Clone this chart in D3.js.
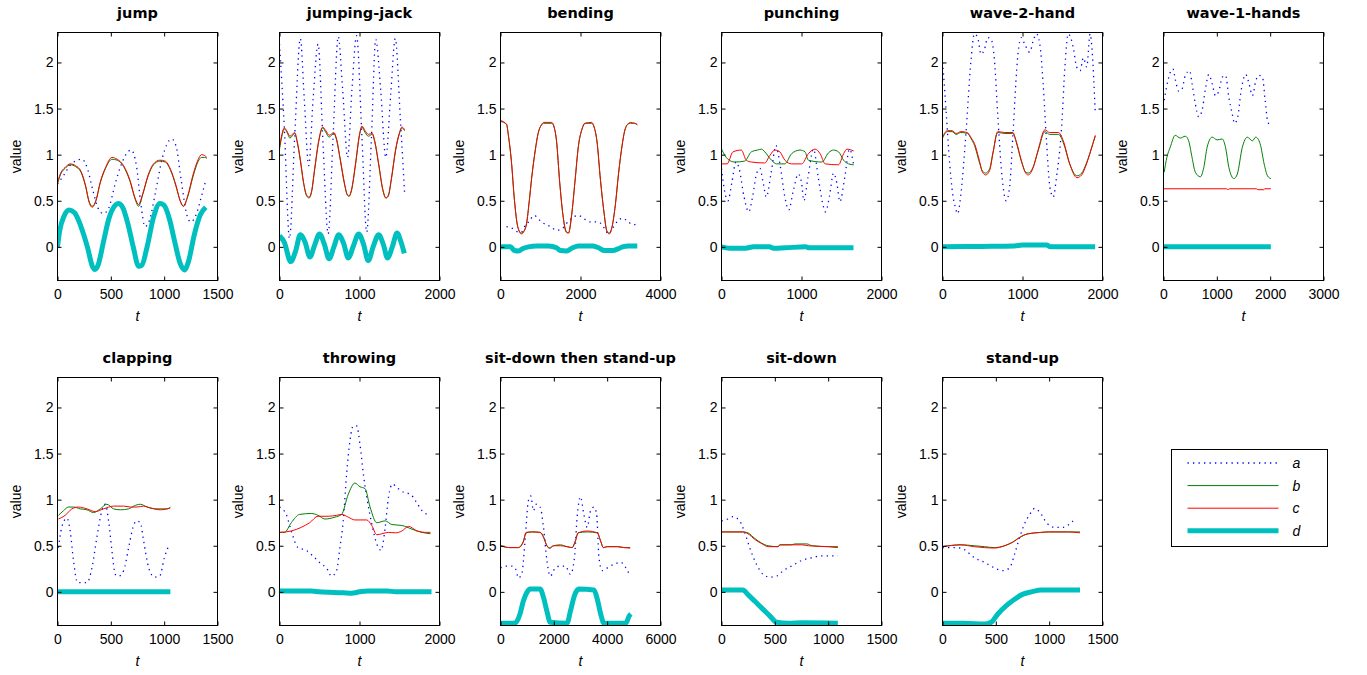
<!DOCTYPE html>
<html><head><meta charset="utf-8">
<script src="https://cdn.jsdelivr.net/npm/d3@7"></script>
<style>
body{margin:0;background:#fff}
svg{display:block}
text{font-family:"Liberation Sans",Arial,sans-serif;fill:#000}
.title{font-family:"DejaVu Sans",sans-serif;font-weight:bold;font-size:14.5px}
</style>
</head><body>
<svg id="chart" width="1367" height="675"></svg>
<script>
// ---------- DATA ----------
const titles = ["jump","jumping-jack","bending","punching","wave-2-hand","wave-1-hands",
                "clapping","throwing","sit-down then stand-up","sit-down","stand-up"];
const xMax   = [1500,2000,4000,2000,2000,3000,1500,2000,6000,1500,1500];
const xStep  = [500,1000,2000,1000,1000,1000,500,1000,2000,500,500];
const yTicks = [0,0.5,1,1.5,2];
const seriesNames = ["a","b","c","d"];

// jump
const jump_a = [[0,0.68],[60,0.78],[130,0.90],[230,0.95],[280,0.85],[330,0.62],[380,0.42],[430,0.36],[480,0.42],[540,0.68],[600,0.90],[690,1.05],[740,0.88],[780,0.48],[820,0.22],[860,0.28],[920,0.60],[980,0.95],[1070,1.17],[1110,1.10],[1160,0.72],[1210,0.36],[1250,0.27],[1300,0.35],[1350,0.55],[1390,0.72]];
const jump_b = [[0,0.68],[30,0.79],[70,0.85],[120,0.89],[170,0.87],[220,0.81],[260,0.67],[300,0.48],[325,0.44],[360,0.50],[400,0.69],[450,0.85],[510,0.95],[560,0.94],[620,0.87],[680,0.71],[730,0.51],[760,0.44],[800,0.57],[850,0.77],[900,0.89],[960,0.93],[1010,0.92],[1060,0.83],[1110,0.66],[1150,0.50],[1180,0.44],[1220,0.54],[1270,0.76],[1320,0.93],[1350,0.97],[1380,0.97],[1400,0.96]];
const jump_c = [[0,0.70],[30,0.80],[70,0.86],[120,0.90],[170,0.88],[220,0.82],[260,0.68],[300,0.47],[325,0.43],[360,0.50],[400,0.70],[450,0.86],[510,0.97],[560,0.95],[620,0.88],[680,0.72],[730,0.52],[760,0.46],[800,0.58],[850,0.78],[900,0.90],[960,0.94],[1010,0.93],[1060,0.84],[1110,0.67],[1150,0.50],[1180,0.44],[1220,0.55],[1270,0.78],[1320,0.95],[1350,1.0],[1380,0.99],[1400,0.97]];
const jump_d = [[0,0],[20,0.17],[60,0.33],[110,0.40],[160,0.37],[220,0.22],[280,0.0],[330,-0.22],[350,-0.245],[380,-0.2],[430,0.05],[480,0.30],[540,0.45],[570,0.47],[610,0.43],[660,0.25],[710,0.0],[760,-0.21],[790,-0.20],[840,0.0],[900,0.32],[960,0.47],[1000,0.45],[1050,0.30],[1100,0.05],[1150,-0.18],[1190,-0.25],[1230,-0.15],[1280,0.12],[1340,0.35],[1390,0.43]];

// jumping-jack
const jj_a = [[0,2.20],[60,1.30],[125,0.09],[190,1.20],[260,2.26],[310,1.60],[365,0.88],[420,1.60],[482,2.20],[545,1.10],[608,0.14],[670,1.20],[734,2.28],[790,1.70],[851,0.97],[905,1.70],[964,2.29],[1030,1.20],[1090,0.16],[1150,1.20],[1203,2.25],[1265,1.70],[1329,0.97],[1390,1.65],[1447,2.26],[1510,1.40],[1564,0.58]];
const jj_b = [[0,1.06],[30,1.20],[60,1.28],[90,1.25],[130,1.18],[190,1.23],[220,1.14],[260,0.94],[300,0.70],[340,0.55],[370,0.53],[400,0.59],[440,0.84],[490,1.14],[540,1.29],[580,1.24],[620,1.19],[680,1.23],[710,1.17],[760,0.94],[810,0.69],[850,0.56],[870,0.55],[900,0.61],[950,0.89],[1000,1.21],[1030,1.30],[1070,1.24],[1110,1.20],[1160,1.22],[1190,1.14],[1240,0.89],[1290,0.62],[1330,0.53],[1360,0.55],[1400,0.74],[1450,1.04],[1500,1.23],[1530,1.29],[1564,1.26]];
const jj_c = [[0,1.08],[30,1.22],[60,1.29],[90,1.26],[130,1.20],[190,1.24],[220,1.15],[260,0.95],[300,0.70],[340,0.56],[370,0.54],[400,0.60],[440,0.85],[490,1.15],[540,1.30],[580,1.26],[620,1.21],[680,1.24],[710,1.18],[760,0.95],[810,0.70],[850,0.56],[870,0.55],[900,0.62],[950,0.90],[1000,1.22],[1030,1.31],[1070,1.26],[1110,1.22],[1160,1.23],[1190,1.15],[1240,0.90],[1290,0.63],[1330,0.53],[1360,0.56],[1400,0.75],[1450,1.05],[1500,1.24],[1530,1.30],[1564,1.27]];
const jj_d = [[0,0.12],[60,0.05],[140,-0.16],[200,-0.05],[260,0.13],[320,0.05],[380,-0.11],[440,0.02],[500,0.14],[560,0.03],[620,-0.13],[680,0.0],[740,0.13],[800,0.04],[860,-0.12],[920,0.0],[990,0.14],[1050,0.03],[1110,-0.15],[1170,0.0],[1240,0.13],[1300,0.02],[1350,-0.12],[1410,0.0],[1470,0.15],[1520,0.05],[1560,-0.07]];

// bending
const bend_a = [[150,0.22],[300,0.20],[450,0.16],[520,0.16],[600,0.22],[700,0.27],[850,0.34],[950,0.30],[1060,0.26],[1250,0.22],[1400,0.18],[1550,0.20],[1700,0.28],[1850,0.33],[1950,0.34],[2100,0.30],[2250,0.27],[2450,0.27],[2600,0.20],[2700,0.14],[2800,0.20],[2950,0.29],[3050,0.31],[3200,0.27],[3300,0.24],[3420,0.25]];
const bend_b = [[0,1.36],[150,1.33],[200,1.20],[270,0.94],[350,0.50],[430,0.22],[520,0.15],[600,0.18],[650,0.25],[720,0.50],[780,0.75],[870,1.05],[940,1.23],[1020,1.32],[1080,1.34],[1280,1.34],[1340,1.30],[1400,1.15],[1480,0.70],[1560,0.35],[1640,0.17],[1700,0.15],[1780,0.35],[1860,0.70],[1950,1.10],[2040,1.28],[2110,1.34],[2280,1.34],[2340,1.30],[2410,1.15],[2500,0.72],[2580,0.40],[2660,0.17],[2720,0.15],[2790,0.22],[2870,0.45],[2950,0.79],[3040,1.10],[3100,1.25],[3180,1.33],[3250,1.34],[3350,1.34],[3420,1.32]];
const bend_c = [[0,1.37],[150,1.33],[200,1.20],[270,0.94],[350,0.50],[430,0.22],[520,0.14],[600,0.18],[650,0.25],[720,0.50],[780,0.75],[870,1.05],[940,1.23],[1020,1.32],[1080,1.35],[1280,1.35],[1340,1.30],[1400,1.15],[1480,0.70],[1560,0.35],[1640,0.16],[1700,0.15],[1780,0.35],[1860,0.70],[1950,1.10],[2040,1.28],[2110,1.34],[2280,1.35],[2340,1.30],[2410,1.15],[2500,0.72],[2580,0.40],[2660,0.17],[2720,0.14],[2790,0.22],[2870,0.45],[2950,0.79],[3040,1.10],[3100,1.25],[3180,1.33],[3250,1.35],[3350,1.34],[3420,1.33]];
const bend_d = [[0,0],[250,0],[350,-0.04],[450,-0.045],[550,-0.02],[700,0],[900,0.01],[1200,0.01],[1400,-0.01],[1500,-0.04],[1650,-0.045],[1800,-0.01],[1950,0.01],[2300,0.01],[2450,-0.01],[2600,-0.04],[2800,-0.04],[2950,-0.02],[3050,0.0],[3200,0.01],[3420,0.01]];

// punching
const punch_a = [[0,0.85],[40,0.60],[80,0.50],[130,0.70],[180,0.92],[220,0.85],[280,0.55],[340,0.38],[390,0.55],[440,0.80],[480,0.85],[520,0.70],[560,0.54],[620,0.80],[680,1.10],[730,0.90],[790,0.55],[840,0.40],[900,0.62],[960,0.79],[1000,0.70],[1030,0.50],[1080,0.75],[1150,1.06],[1210,0.75],[1270,0.45],[1300,0.38],[1350,0.55],[1400,0.80],[1440,0.70],[1480,0.49],[1540,0.75],[1600,1.06],[1650,0.90]];
const punch_b = [[0,1.06],[80,0.95],[164,0.92],[289,0.93],[373,1.03],[450,1.05],[499,1.06],[541,1.03],[625,0.94],[688,0.90],[792,0.90],[876,1.01],[981,1.05],[1044,1.03],[1086,0.94],[1254,0.92],[1338,1.02],[1400,1.05],[1463,1.03],[1526,0.94],[1589,0.90],[1652,0.89]];
const punch_c = [[0,0.90],[70,0.90],[143,1.03],[247,1.05],[310,0.94],[373,0.92],[541,0.91],[604,0.99],[667,1.05],[730,1.03],[792,0.94],[876,0.90],[1002,0.90],[1086,1.01],[1170,1.06],[1233,1.01],[1296,0.90],[1463,0.89],[1526,1.01],[1568,1.06],[1652,1.04]];
const punch_d = [[0,0.0],[100,-0.015],[300,-0.015],[400,0.0],[600,0.0],[650,-0.015],[800,-0.01],[1050,0.0],[1100,-0.01],[1650,-0.01]];

// wave-2-hand
const w2_a = [[0,2.0],[13,1.87],[42,1.51],[90,0.90],[126,0.58],[160,0.43],[189,0.36],[231,0.58],[293,1.23],[356,2.02],[398,2.31],[440,2.27],[482,2.09],[524,2.14],[566,2.27],[608,2.25],[650,2.02],[692,1.41],[734,0.86],[797,0.50],[839,0.65],[881,1.23],[943,2.09],[985,2.27],[1027,2.20],[1090,2.11],[1132,2.23],[1174,2.31],[1216,2.20],[1258,1.77],[1300,1.15],[1342,0.65],[1384,0.54],[1426,0.76],[1489,1.30],[1530,1.95],[1572,2.31],[1635,2.16],[1677,1.95],[1719,1.91],[1761,2.05],[1803,1.95],[1845,2.31],[1870,2.13],[1908,1.48]];
const w2_b = [[0,1.18],[60,1.25],[120,1.25],[170,1.22],[230,1.24],[310,1.23],[360,1.17],[400,1.10],[460,0.92],[500,0.82],[540,0.80],[590,0.85],[630,1.02],[690,1.24],[780,1.23],[880,1.23],[920,1.14],[985,0.93],[1040,0.81],[1070,0.80],[1130,0.86],[1195,1.04],[1280,1.25],[1340,1.22],[1450,1.22],[1510,1.13],[1590,0.90],[1680,0.77],[1740,0.80],[1800,0.91],[1880,1.12],[1910,1.20]];
const w2_c = [[0,1.19],[60,1.26],[120,1.26],[170,1.23],[230,1.25],[310,1.24],[360,1.18],[400,1.12],[460,0.94],[500,0.81],[540,0.78],[590,0.83],[630,1.01],[690,1.25],[780,1.24],[880,1.24],[920,1.15],[985,0.94],[1040,0.80],[1070,0.78],[1130,0.85],[1195,1.05],[1280,1.27],[1340,1.24],[1450,1.24],[1510,1.15],[1590,0.90],[1680,0.75],[1740,0.78],[1800,0.90],[1880,1.12],[1910,1.21]];
const w2_d = [[0,0.0],[500,0.005],[900,0.01],[1000,0.02],[1300,0.02],[1350,0.0],[1908,0.0]];

// wave-1-hands
const w1_a = [[13,1.59],[63,1.75],[126,1.89],[176,1.93],[220,1.82],[283,1.69],[346,1.71],[409,1.86],[491,1.91],[535,1.77],[597,1.55],[660,1.41],[723,1.48],[786,1.71],[849,1.87],[912,1.77],[975,1.64],[1038,1.69],[1101,1.84],[1163,1.86],[1226,1.62],[1289,1.44],[1333,1.34],[1396,1.42],[1447,1.66],[1541,1.87],[1604,1.77],[1667,1.64],[1730,1.80],[1792,1.86],[1855,1.84],[1906,1.59],[1950,1.37],[1981,1.33]];
const w1_b = [[13,0.81],[63,0.97],[126,1.08],[220,1.21],[314,1.18],[409,1.20],[472,1.15],[535,0.97],[597,0.81],[692,0.76],[755,0.86],[818,1.08],[912,1.19],[1006,1.16],[1101,1.17],[1163,1.08],[1226,0.86],[1321,0.74],[1384,0.79],[1478,1.08],[1572,1.19],[1667,1.15],[1730,1.19],[1811,1.12],[1887,0.90],[1950,0.77],[2013,0.74]];
const w1_c = [[0,0.63],[1180,0.63],[1210,0.62],[1240,0.63],[1740,0.63],[1770,0.62],[1880,0.62],[1900,0.63],[2013,0.63]];
const w1_d = [[0,0],[2013,0]];

// clapping
const clap_a = [[9,0.48],[40,0.70],[88,0.80],[119,0.66],[150,0.34],[188,0.10],[229,0.10],[276,0.10],[323,0.26],[369,0.59],[416,0.88],[448,0.95],[479,0.77],[510,0.45],[542,0.19],[573,0.17],[620,0.23],[667,0.48],[708,0.70],[739,0.77],[777,0.75],[808,0.55],[855,0.26],[908,0.16],[958,0.17],[1002,0.37],[1042,0.50]];
const clap_b = [[9,0.83],[56,0.88],[103,0.92],[150,0.92],[213,0.90],[276,0.89],[338,0.86],[401,0.90],[463,0.95],[526,0.90],[589,0.89],[667,0.90],[714,0.93],[777,0.95],[839,0.92],[933,0.90],[1027,0.90],[1058,0.92]];
const clap_c = [[9,0.79],[72,0.83],[135,0.90],[197,0.92],[276,0.90],[354,0.87],[432,0.90],[526,0.93],[620,0.93],[683,0.92],[745,0.92],[808,0.93],[870,0.91],[964,0.89],[1058,0.91]];
const clap_d = [[0,0],[1058,0]];

// throwing
const throw_a = [[0,0.92],[84,0.84],[147,0.66],[231,0.48],[335,0.45],[440,0.37],[524,0.30],[587,0.26],[650,0.17],[713,0.23],[755,0.48],[797,0.77],[839,1.28],[881,1.64],[922,1.80],[964,1.80],[1006,1.60],[1048,1.28],[1090,1.03],[1153,0.74],[1216,0.52],[1270,0.45],[1321,0.70],[1363,1.03],[1413,1.17],[1468,1.13],[1551,1.08],[1635,1.06],[1698,0.99],[1782,0.88],[1845,0.84]];
const throw_b = [[0,0.645],[63,0.645],[147,0.75],[252,0.84],[398,0.85],[482,0.83],[566,0.79],[692,0.81],[776,0.84],[860,1.06],[943,1.18],[1006,1.14],[1069,1.12],[1132,0.92],[1216,0.75],[1321,0.77],[1405,0.73],[1530,0.72],[1656,0.68],[1782,0.645],[1887,0.63]];
const throw_c = [[0,0.645],[147,0.66],[273,0.70],[377,0.75],[482,0.82],[608,0.82],[713,0.83],[776,0.84],[860,0.81],[943,0.78],[1090,0.78],[1153,0.72],[1216,0.62],[1279,0.63],[1363,0.645],[1447,0.64],[1530,0.66],[1614,0.71],[1719,0.66],[1824,0.645],[1887,0.645]];
const throw_d = [[0,0.01],[400,0.01],[500,0.0],[800,-0.01],[900,-0.015],[1000,0.0],[1100,0.01],[1350,0.01],[1450,0.0],[1900,0.0]];

// sit-down then stand-up
const sds_a = [[0,0.26],[227,0.28],[416,0.28],[580,0.24],[668,0.15],[794,0.19],[920,0.55],[1046,0.99],[1134,1.04],[1235,0.88],[1336,0.95],[1487,0.92],[1613,0.70],[1740,0.34],[1866,0.17],[2055,0.26],[2244,0.28],[2433,0.28],[2622,0.19],[2773,0.37],[2874,0.81],[3000,1.03],[3126,0.84],[3252,0.70],[3378,0.88],[3504,0.92],[3605,0.84],[3693,0.37],[3819,0.23],[4008,0.26],[4261,0.30],[4513,0.32],[4702,0.26],[4865,0.17]];
const sds_b = [[0,0.50],[353,0.48],[668,0.48],[857,0.55],[958,0.64],[1172,0.65],[1487,0.645],[1613,0.60],[1740,0.50],[1840,0.48],[1992,0.50],[2244,0.51],[2496,0.49],[2685,0.48],[2811,0.56],[2912,0.64],[3252,0.65],[3630,0.64],[3756,0.55],[3857,0.48],[4008,0.49],[4387,0.49],[4639,0.48],[4865,0.48]];
const sds_c = [[0,0.50],[353,0.48],[668,0.48],[857,0.54],[958,0.645],[1172,0.65],[1487,0.645],[1613,0.59],[1740,0.50],[1840,0.47],[1992,0.50],[2244,0.50],[2496,0.49],[2685,0.48],[2811,0.55],[2912,0.64],[3252,0.66],[3630,0.64],[3756,0.55],[3857,0.48],[4008,0.49],[4387,0.49],[4639,0.48],[4865,0.475]];
const sds_d = [[0,-0.34],[542,-0.34],[731,-0.24],[857,-0.10],[983,-0.01],[1109,0.03],[1487,0.03],[1613,-0.06],[1740,-0.21],[1866,-0.33],[2496,-0.34],[2622,-0.21],[2786,-0.03],[2937,0.03],[3504,0.02],[3630,-0.08],[3756,-0.24],[3882,-0.34],[4702,-0.34],[4828,-0.26],[4891,-0.24]];

// sit-down
const sd_a = [[0,0.77],[60,0.79],[107,0.815],[170,0.77],[217,0.645],[264,0.48],[327,0.30],[390,0.19],[453,0.16],[516,0.17],[579,0.23],[657,0.28],[752,0.34],[846,0.37],[940,0.39],[1019,0.39],[1091,0.39]];
const sd_b = [[0,0.65],[201,0.65],[248,0.64],[311,0.58],[374,0.53],[437,0.50],[531,0.49],[547,0.51],[650,0.51],[690,0.52],[800,0.52],[850,0.50],[1003,0.49],[1091,0.49]];
const sd_c = [[0,0.65],[201,0.65],[248,0.63],[311,0.57],[374,0.525],[437,0.49],[531,0.49],[547,0.51],[752,0.51],[815,0.50],[1003,0.49],[1091,0.48]];
const sd_d = [[0,0.02],[201,0.02],[248,-0.03],[311,-0.10],[390,-0.19],[453,-0.26],[516,-0.33],[626,-0.34],[752,-0.335],[1091,-0.34]];

// stand-up
const su_a = [[0,0.48],[63,0.48],[173,0.475],[236,0.43],[299,0.37],[393,0.32],[487,0.26],[566,0.23],[629,0.26],[676,0.41],[723,0.59],[770,0.74],[818,0.84],[865,0.905],[912,0.865],[975,0.75],[1054,0.70],[1132,0.70],[1195,0.74],[1242,0.79]];
const su_b = [[0,0.49],[173,0.51],[299,0.50],[393,0.49],[487,0.48],[582,0.50],[660,0.54],[723,0.59],[802,0.63],[928,0.645],[991,0.65],[1179,0.65],[1289,0.65]];
const su_c = [[0,0.49],[173,0.51],[299,0.49],[393,0.48],[487,0.475],[582,0.50],[660,0.54],[723,0.59],[802,0.63],[928,0.645],[991,0.65],[1179,0.65],[1289,0.64]];
const su_d = [[0,-0.34],[204,-0.34],[393,-0.35],[456,-0.33],[519,-0.24],[598,-0.15],[676,-0.08],[755,-0.025],[833,0.0],[928,0.02],[1289,0.02]];

const panelSeries = [
  [jump_a,jump_b,jump_c,jump_d],[jj_a,jj_b,jj_c,jj_d],[bend_a,bend_b,bend_c,bend_d],
  [punch_a,punch_b,punch_c,punch_d],[w2_a,w2_b,w2_c,w2_d],[w1_a,w1_b,w1_c,w1_d],
  [clap_a,clap_b,clap_c,clap_d],[throw_a,throw_b,throw_c,throw_d],[sds_a,sds_b,sds_c,sds_d],
  [sd_a,sd_b,sd_c,sd_d],[su_a,su_b,su_c,su_d]
];

// ---------- STYLE / LAYOUT ----------
const styles = [
  {stroke:"#0000ff", width:1.3, dash:"1.3,4.2"},
  {stroke:"#008000", width:1, dash:null},
  {stroke:"#ff0000", width:1, dash:null},
  {stroke:"#00bfbf", width:5, dash:null}
];
const colX0 = 57.3, colStep = 221.2, plotW = 160, plotH = 248;
const rowY0 = [32.3, 376.7];
const yDomain = [-0.365, 2.325];

const svg = d3.select("#chart");

panelSeries.forEach((series, i) => {
  const r = i < 6 ? 0 : 1, c = i < 6 ? i : i - 6;
  const x0 = Math.round(colX0 + c * colStep) + 0.5;
  const y0 = Math.round(rowY0[r]) + 0.5;
  const g = svg.append("g").attr("transform", `translate(${x0},${y0})`);
  const x = d3.scaleLinear().domain([0, xMax[i]]).range([0, plotW]);
  const y = d3.scaleLinear().domain(yDomain).range([plotH, 0]);
  const xt = d3.range(0, xMax[i] + 1, xStep[i]);

  g.append("rect").attr("width", plotW).attr("height", plotH).attr("fill", "#fff");

  const clipId = "clip" + i;
  g.append("clipPath").attr("id", clipId).append("rect").attr("width", plotW).attr("height", plotH);

  const line = d3.line().x(d => x(d[0])).y(d => y(d[1])).curve(d3.curveMonotoneX);
  const plot = g.append("g").attr("clip-path", `url(#${clipId})`);
  series.forEach((s, k) => {
    const st = styles[k];
    plot.append("path").datum(s).attr("d", line).attr("fill", "none")
      .attr("stroke", st.stroke).attr("stroke-width", st.width)
      .attr("stroke-dasharray", st.dash).attr("stroke-linejoin", "round");
  });

  // axes (inward ticks, mirrored on all four sides)
  const fmt = d3.format("~g");
  const ax = (sel) => { sel.select(".domain").remove(); sel.selectAll("line").attr("stroke", "#000"); sel.selectAll("text").attr("font-size", 14).attr("fill", "#000"); };
  g.append("g").attr("transform", `translate(0,${plotH})`)
    .call(d3.axisBottom(x).tickValues(xt).tickSize(-4).tickPadding(9).tickFormat(fmt)).call(ax)
    .attr("font-family", null);
  g.append("g").call(d3.axisTop(x).tickValues(xt).tickSize(-4).tickFormat("")).call(ax);
  g.append("g").call(d3.axisLeft(y).tickValues(yTicks).tickSize(-4).tickPadding(4).tickFormat(fmt)).call(ax)
    .attr("font-family", null);
  g.append("g").attr("transform", `translate(${plotW},0)`)
    .call(d3.axisRight(y).tickValues(yTicks).tickSize(-4).tickFormat("")).call(ax);

  g.append("rect").attr("width", plotW).attr("height", plotH)
    .attr("fill", "none").attr("stroke", "#000").attr("stroke-width", 1);

  g.append("text").attr("class", "title").attr("x", plotW / 2).attr("y", -15)
    .attr("text-anchor", "middle").text(titles[i]);
  g.append("text").attr("x", plotW / 2).attr("y", plotH + 40).attr("text-anchor", "middle")
    .attr("font-size", 14).attr("font-style", "italic").text("t");
  g.append("text").attr("transform", `translate(-37,${plotH / 2}) rotate(-90)`)
    .attr("text-anchor", "middle").attr("font-size", 14).text("value");
});

// legend
const lg = svg.append("g").attr("transform", "translate(1171.5,449.5)");
lg.append("rect").attr("width", 156).attr("height", 97).attr("fill", "#fff").attr("stroke", "#000");
seriesNames.forEach((n, k) => {
  const yy = 13.5 + k * 22.6;
  const st = styles[k];
  lg.append("line").attr("x1", 16).attr("x2", 107).attr("y1", yy).attr("y2", yy)
    .attr("stroke", st.stroke).attr("stroke-width", st.width).attr("stroke-dasharray", st.dash);
  lg.append("text").attr("x", 121).attr("y", yy + 5).attr("font-size", 14)
    .attr("font-style", "italic").text(n);
});
</script>
</body></html>
